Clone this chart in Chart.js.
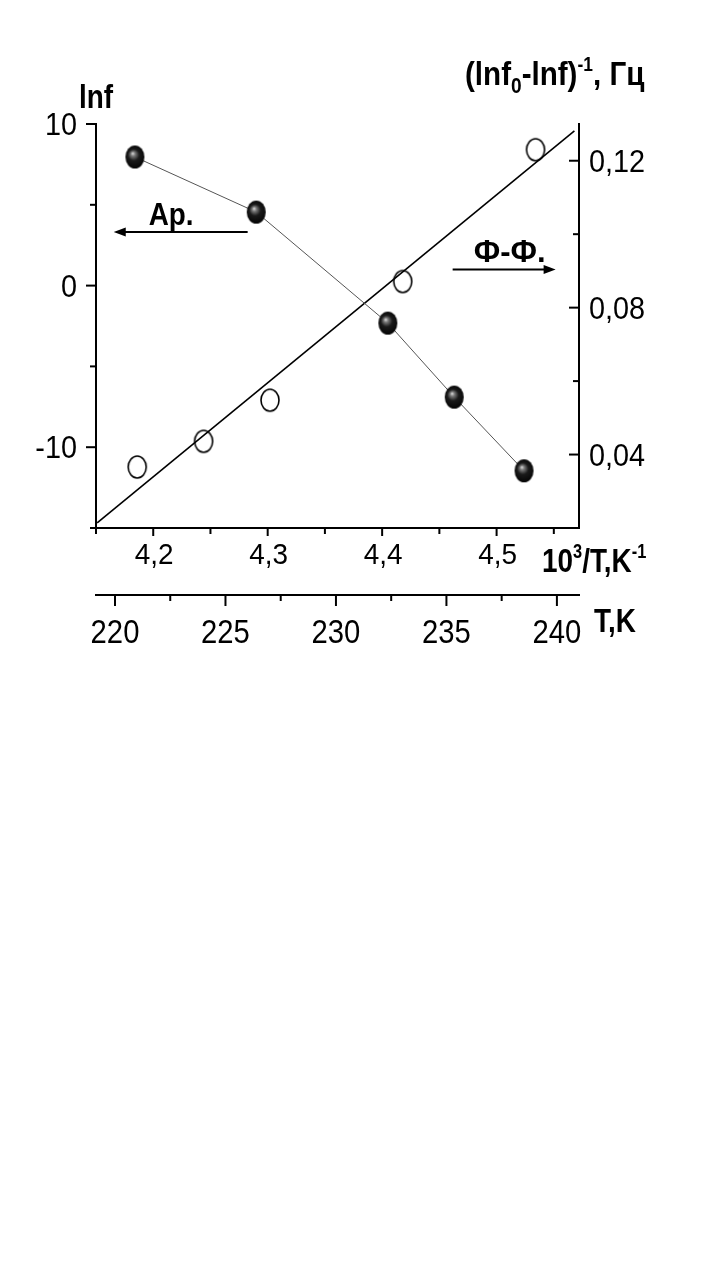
<!DOCTYPE html>
<html>
<head>
<meta charset="utf-8">
<script src="https://cdn.jsdelivr.net/npm/chart.js@4.4.1/dist/chart.umd.min.js"></script>
<style>
    html, body { margin: 0; padding: 0; background: #fff; }
    #wrap { position: relative; width: 715px; height: 660px; }
</style>
</head>
<body>
<div id="wrap"><canvas id="chart"></canvas></div>
<script>
// Ар. series (filled balls): 10^3/T and lnf
const apX = [4.184, 4.290, 4.405, 4.463, 4.524];
const apLnf = [7.96, 4.55, -2.32, -6.9, -11.46];

// Ф-Ф. series (open circles): 10^3/T and (lnf0-lnf)^-1
const ffX = [4.186, 4.244, 4.302, 4.418, 4.534];
const ffVal = [0.0366, 0.0436, 0.0548, 0.0871, 0.123];

// straight fit through the Ф-Ф. points (its two ends)
const fitX = [4.151, 4.568];
const fitVal = [0.0214, 0.1281];

// axis ticks and the ones that carry a label
const invTTicks = [4.15, 4.2, 4.25, 4.3, 4.35, 4.4, 4.45, 4.5, 4.55];
const invTLabels = [4.2, 4.3, 4.4, 4.5];
const lnfTicks = [-15, -10, -5, 0, 5, 10];
const lnfLabels = [-10, 0, 10];
const rightTicks = [0.04, 0.06, 0.08, 0.10, 0.12];
const rightLabels = [0.04, 0.08, 0.12];
const tempTicks = [220, 222.5, 225, 227.5, 230, 232.5, 235, 237.5, 240];
const tempLabels = [220, 225, 230, 235, 240];

const FONT = "'Liberation Sans Narrow', 'Arial Narrow', 'Liberation Sans', Arial, sans-serif";

const has = (arr, v) => arr.some((a) => Math.abs(a - v) < 1e-6);
const fmt = (v) => String(v).replace('.', ',');
const toPoints = (xs, ys) => xs.map((x, i) => ({ x: x, y: ys[i] }));

// shaded ball for the filled markers
const ball = (w, h) => {
    const c = document.createElement('canvas');
    c.width = w + 2;
    c.height = h + 2;
    const g = c.getContext('2d');
    const cx = c.width / 2, cy = c.height / 2;
    const grad = g.createRadialGradient(cx - w * 0.12, cy - h * 0.16, 0, cx, cy, h * 0.55);
    grad.addColorStop(0, '#e4e4e4');
    grad.addColorStop(0.18, '#777');
    grad.addColorStop(0.45, '#1a1a1a');
    grad.addColorStop(1, '#000');
    g.fillStyle = grad;
    g.beginPath();
    g.ellipse(cx, cy, w / 2, h / 2, 0, 0, Math.PI * 2);
    g.fill();
    return c;
};

const ring = (w, h) => {
    const c = document.createElement('canvas');
    c.width = w + 4;
    c.height = h + 4;
    const g = c.getContext('2d');
    g.strokeStyle = '#000';
    g.lineWidth = 1.6;
    g.beginPath();
    g.ellipse(c.width / 2, c.height / 2, w / 2, h / 2, 0, 0, Math.PI * 2);
    g.stroke();
    return c;
};

// narrow-looking text: the font is squeezed sideways by sx
const say = (ctx, str, x, y, size, sx, bold, align) => {
    ctx.save();
    ctx.font = (bold ? 'bold ' : '') + size + 'px ' + FONT;
    ctx.textAlign = align || 'left';
    ctx.textBaseline = 'alphabetic';
    ctx.translate(x, y);
    ctx.scale(sx, 1);
    ctx.fillText(str, 0, 0);
    const w = ctx.measureText(str).width * sx;
    ctx.restore();
    return w;
};

// tick marks (major longer; left/bottom outward, right inward) and tick labels
const axesDecor = {
    id: 'axesDecor',
    afterDraw(chart) {
        const ctx = chart.ctx, a = chart.chartArea, s = chart.scales;
        const mark = (x1, y1, x2, y2) => {
            ctx.beginPath();
            ctx.moveTo(x1, y1);
            ctx.lineTo(x2, y2);
            ctx.stroke();
        };
        ctx.save();
        ctx.strokeStyle = '#000';
        ctx.fillStyle = '#000';
        ctx.lineWidth = 2;
        lnfTicks.forEach((v) => {
            const y = s.y.getPixelForValue(v);
            const major = has(lnfLabels, v);
            mark(a.left - (major ? 10 : 6), y, a.left, y);
            if (major) say(ctx, fmt(v), a.left - 19, y + 11, 31, 0.93, false, 'right');
        });
        rightTicks.forEach((v) => {
            const y = s.y2.getPixelForValue(v);
            const major = has(rightLabels, v);
            mark(a.right - (major ? 10 : 6), y, a.right, y);
            if (major) say(ctx, fmt(v), a.right + 10, y + 11, 31, 0.93, false, 'left');
        });
        invTTicks.forEach((v) => {
            const x = s.x.getPixelForValue(v);
            const major = has(invTLabels, v);
            mark(x, a.bottom, x, a.bottom + (major ? 8 : 6));
            if (major) say(ctx, fmt(v), x + 1, a.bottom + 36, 30, 0.93, false, 'center');
        });
        tempTicks.forEach((v) => {
            const x = s.x2.getPixelForValue(v);
            const major = has(tempLabels, v);
            mark(x, s.x2.top, x, s.x2.top + (major ? 11 : 6));
            if (major) say(ctx, fmt(v), x, s.x2.top + 48, 34, 0.86, false, 'center');
        });
        ctx.restore();
    }
};

// axis titles, arrows and series notes
const notes = {
    id: 'notes',
    afterDraw(chart) {
        const ctx = chart.ctx, a = chart.chartArea, s = chart.scales;
        const runs = (x, y, parts) => {
            parts.forEach((p) => {
                x += say(ctx, p.t, x, y + (p.dy || 0), p.size, p.sx || 0.82, true, 'left');
            });
        };
        const arrow = (x1, x2, y) => {
            const dir = x2 > x1 ? 1 : -1;
            ctx.lineWidth = 2;
            ctx.beginPath();
            ctx.moveTo(x1, y);
            ctx.lineTo(x2 - dir * 8, y);
            ctx.stroke();
            ctx.beginPath();
            ctx.moveTo(x2, y);
            ctx.lineTo(x2 - dir * 12, y - 4.5);
            ctx.lineTo(x2 - dir * 12, y + 4.5);
            ctx.closePath();
            ctx.fill();
        };
        ctx.save();
        ctx.fillStyle = '#000';
        ctx.strokeStyle = '#000';

        runs(a.left - 17, a.top - 16, [{ t: 'lnf', size: 34 }]);
        runs(a.right - 114, a.top - 39, [
            { t: '(lnf', size: 34, sx: 0.87 },
            { t: '0', size: 22, dy: 8, sx: 0.87 },
            { t: '-lnf)', size: 34, sx: 0.87 },
            { t: '-1', size: 20, dy: -14, sx: 0.87 },
            { t: ', Гц', size: 34, sx: 0.87 }
        ]);
        runs(a.right - 37, a.bottom + 44, [
            { t: '10', size: 34 },
            { t: '3', size: 20, dy: -14 },
            { t: '/T,K', size: 34 },
            { t: '-1', size: 20, dy: -14 }
        ]);
        runs(a.right + 15, s.x2.top + 37, [{ t: 'T,K', size: 34 }]);

        // Ар. -> left axis
        const yAp = s.y.getPixelForValue(3.31);
        arrow(s.x.getPixelForValue(4.2825), s.x.getPixelForValue(4.1655), yAp);
        runs(s.x.getPixelForValue(4.196), s.y.getPixelForValue(3.75), [{ t: 'Ар.', size: 32, sx: 0.87 }]);

        // Ф-Ф. -> right axis
        const yFf = s.y2.getPixelForValue(0.0904);
        arrow(s.x.getPixelForValue(4.4616), s.x.getPixelForValue(4.5516), yFf);
        runs(s.x.getPixelForValue(4.48), s.y2.getPixelForValue(0.0923), [{ t: 'Ф-Ф.', size: 32, sx: 0.97 }]);
        ctx.restore();
    }
};

const setTicks = (list) => (scale) => {
    scale.ticks = list.map((v) => ({ value: v }));
};
const axisBorder = { display: true, color: '#000', width: 2 };
const noGrid = { display: false, drawTicks: false };
const noLabels = { display: false };

new Chart(document.getElementById('chart'), {
    type: 'scatter',
    data: {
        datasets: [
            {
                label: 'Ар.',
                data: toPoints(apX, apLnf),
                xAxisID: 'x',
                yAxisID: 'y',
                showLine: true,
                borderColor: '#555',
                borderWidth: 1,
                pointStyle: ball(19, 23),
                pointRadius: 10,
                order: 0
            },
            {
                label: 'Ф-Ф.',
                data: toPoints(ffX, ffVal),
                xAxisID: 'x',
                yAxisID: 'y2',
                showLine: false,
                pointStyle: ring(18, 22),
                pointRadius: 10,
                order: 1
            },
            {
                label: 'fit',
                data: toPoints(fitX, fitVal),
                xAxisID: 'x',
                yAxisID: 'y2',
                showLine: true,
                borderColor: '#000',
                borderWidth: 1.6,
                pointRadius: 0,
                order: 2
            }
        ]
    },
    options: {
        responsive: true,
        maintainAspectRatio: false,
        animation: false,
        events: [],
        layout: { padding: { top: 124, left: 0, right: 0, bottom: 0 } },
        plugins: {
            legend: { display: false },
            tooltip: { enabled: false }
        },
        scales: {
            x: {
                type: 'linear',
                position: 'bottom',
                weight: 0,
                min: 4.15,
                max: 4.572,
                grid: noGrid,
                border: axisBorder,
                ticks: noLabels,
                afterBuildTicks: setTicks(invTTicks),
                afterFit: (sc) => { sc.height = 67; }
            },
            x2: {
                type: 'linear',
                position: 'bottom',
                weight: 1,
                min: 219.14,
                max: 241,
                grid: noGrid,
                border: axisBorder,
                ticks: noLabels,
                afterBuildTicks: setTicks(tempTicks),
                afterFit: (sc) => { sc.height = 65; }
            },
            y: {
                type: 'linear',
                position: 'left',
                min: -15,
                max: 10,
                grid: noGrid,
                border: axisBorder,
                ticks: noLabels,
                afterBuildTicks: setTicks(lnfTicks),
                afterFit: (sc) => { sc.width = 96; }
            },
            y2: {
                type: 'linear',
                position: 'right',
                min: 0.02,
                max: 0.13,
                grid: noGrid,
                border: axisBorder,
                ticks: noLabels,
                afterBuildTicks: setTicks(rightTicks),
                afterFit: (sc) => { sc.width = 136; }
            }
        }
    },
    plugins: [axesDecor, notes]
});
</script>
</body>
</html>
